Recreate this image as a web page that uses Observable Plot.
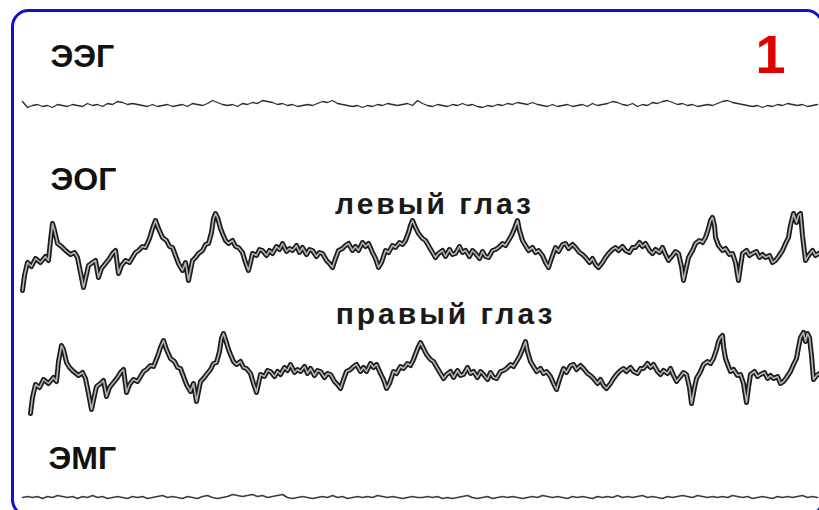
<!DOCTYPE html>
<html>
<head>
<meta charset="utf-8">
<script src="https://cdn.jsdelivr.net/npm/d3@7"></script>
<script src="https://cdn.jsdelivr.net/npm/@observablehq/plot@0.6"></script>
<style>
  html, body { margin: 0; padding: 0; background: #fff; overflow: hidden; }
  #chart svg { display: block; }
</style>
</head>
<body>
<div id="chart"></div>
<script>
// ---------- channel labels ----------
const channelLabels = ["ЭЭГ", "ЭОГ", "ЭМГ"];
const eyeLabels = ["левый глаз", "правый глаз"];
const figureNumber = ["1"];

// ---------- EEG (uniform sampling, step 5, start 22) ----------
const eegValues = [
  4,-2,0,1,-1,0,-2,1,0,-1,1,0,-1,2,0,1,-1,2,1,4,
  3,1,2,1,0,-1,1,-1,0,1,-1,0,1,-1,2,1,0,2,5,3,
  1,0,1,-1,2,1,3,2,5,4,3,1,2,0,1,-1,0,1,0,2,
  4,3,5,2,1,0,-1,0,-2,0,-1,1,0,2,1,0,1,2,0,5,
  2,0,-1,1,0,-1,1,0,2,0,1,-1,-2,0,-1,1,0,2,1,3,
  2,1,3,1,0,-1,1,-1,0,1,-1,0,1,-1,2,0,1,2,4,3,
  1,0,2,-1,1,0,3,2,4,5,3,1,2,0,1,-1,0,1,0,2,
  4,5,3,2,1,0,-1,0,-2,0,-1,1,0,2,1,0,1,-1,0,1
];

// ---------- EMG (uniform sampling, step 5, start 22) ----------
const emgValues = [
  0,1,0,1,-1,1,0,2,1,0,1,-1,1,0,2,0,1,-1,0,1,
  0,-1,1,0,1,-1,0,1,2,0,1,0,-1,1,0,-1,1,2,0,-1,
  0,1,3,2,1,2,3,1,2,0,1,2,3,0,-1,0,1,0,-1,0,
  1,0,2,0,1,-1,0,1,0,1,0,2,1,0,1,0,-1,0,1,0,
  0,1,0,1,-1,0,-1,0,1,2,0,-1,0,1,-1,0,1,0,1,0,
  -1,0,1,0,2,1,0,1,0,-1,1,0,1,0,-1,1,0,1,0,2,
  0,1,0,1,2,0,1,0,-1,1,0,1,2,1,0,2,1,0,1,0,
  1,0,2,1,0,1,-1,0,1,0,-1,1,0,1,0,1,2,0,1,0
];

// ---------- EOG left eye ----------
const leftTime = [
  22,24,27,31,35,40,45,48,50,52,54,57,61,65,70,74,77,80,83,86,88,92,95,98,101,105,109,112,115,118,
  121,125,129,132,135,138,142,145,149,152,155,158,162,166,169,172,175,178,182,185,188,190,192,195,198,202,205,208,211,213,
  215,217,220,222,225,228,232,235,238,242,245,248,250,252,256,259,262,266,269,272,276,279,282,286,289,292,296,299,302,306,
  309,312,316,319,322,326,329,332,335,338,342,345,348,352,355,358,362,365,368,372,375,378,381,385,388,392,395,399,402,405,
  408,410,412,415,418,422,425,429,432,435,438,442,445,449,452,455,459,462,465,469,472,475,479,482,485,488,492,495,498,502,
  505,508,511,514,517,519,522,525,528,532,535,538,542,545,548,551,555,558,562,565,568,572,575,579,582,585,589,592,595,598,
  602,605,608,612,615,618,622,625,629,632,635,639,642,645,649,652,655,659,662,665,668,672,675,678,681,683,686,688,692,695,
  699,702,705,708,710,712,714,715,718,722,725,729,732,735,738,740,742,746,749,752,756,759,762,765,769,772,775,778,782,785,
  788,790,793,796,798,800,802,805,808,812,815,818
];
const leftValues = [
  -35,-20,-7,-11,-3,-7,-1,-5,15,32,25,12,9,5,1,3,-2,-17,-32,-19,-10,-7,-5,-22,-13,-8,-3,2,5,-18,
  -10,-5,-7,-2,3,5,9,8,17,27,35,27,18,15,9,8,0,-8,-15,-7,-25,-15,-5,-2,2,5,11,12,23,37,
  42,38,27,22,15,12,15,9,8,3,-7,-15,-7,2,0,6,5,0,5,2,9,6,12,4,7,5,10,3,8,1,
  6,5,-1,3,2,-5,-8,-12,-3,5,7,10,12,5,9,5,13,9,12,3,-3,-12,-7,5,3,10,8,13,11,15,
  23,30,35,28,22,17,15,8,3,-2,2,5,-1,6,1,2,9,3,5,-1,5,2,-3,4,-1,-2,5,6,8,12,
  10,15,20,27,35,25,15,10,5,8,3,5,0,-7,-12,-3,8,4,11,12,7,11,8,3,1,-2,-7,-3,-9,-12,
  -7,-2,2,6,8,5,9,5,3,8,8,13,9,12,5,2,6,3,8,1,-5,0,4,2,-11,-25,-11,-2,5,12,
  15,13,18,27,35,38,30,18,10,5,7,1,2,-7,-25,-11,2,5,0,2,4,-2,1,-2,0,-7,-5,-1,5,12,
  18,30,42,33,40,42,20,-5,0,5,0,2
];

// ---------- EOG right eye ----------
const rightTime = [
  30,32,35,39,43,48,53,56,58,61,63,66,69,73,78,82,85,88,91,94,96,100,103,106,109,113,117,120,123,126,
  129,133,137,140,143,146,150,153,157,160,163,166,170,174,177,180,183,186,190,193,196,198,200,203,206,210,213,216,219,221,
  223,225,228,230,233,236,240,243,246,250,253,256,258,260,264,267,270,274,277,280,284,287,290,294,297,300,304,307,310,314,
  317,320,324,327,330,334,337,340,343,346,350,353,356,360,363,366,370,373,376,380,383,386,389,393,396,400,403,407,410,413,
  416,418,420,423,426,430,433,437,440,443,446,450,453,457,460,463,467,470,473,477,480,483,487,490,493,496,500,503,506,510,
  513,516,519,522,525,527,530,533,536,540,543,546,550,553,556,559,563,566,570,573,576,580,583,587,590,593,597,600,603,606,
  610,613,616,620,623,626,630,633,637,640,643,647,650,653,657,660,663,667,670,673,676,680,683,686,689,691,694,696,700,703,
  707,710,713,716,718,720,722,723,725,728,730,733,737,740,743,746,748,750,754,757,760,764,767,770,773,777,780,783,786,790,
  793,796,798,800,803,805,807,809,811,813,816,819
];
const rightValues = [
  -38,-22,-9,-12,-4,-8,-2,-6,14,30,26,13,8,4,0,3,-3,-18,-34,-20,-11,-8,-5,-21,-12,-7,-2,3,6,-17,
  -9,-4,-6,-1,4,6,10,9,19,28,35,26,17,14,8,7,-1,-9,-16,-8,-26,-16,-6,-3,1,6,12,13,24,37,
  42,36,26,21,14,11,14,8,7,2,-8,-17,-8,1,-1,5,4,-1,4,1,8,5,11,3,6,4,9,2,7,0,
  5,4,-2,2,1,-6,-9,-13,-4,4,6,9,11,4,8,4,12,8,11,2,-4,-13,-8,4,2,9,7,12,10,16,
  24,29,33,27,21,16,14,7,2,-3,1,4,-2,5,0,1,8,2,4,-2,4,1,-4,3,-2,-3,4,5,7,11,
  9,14,19,26,34,24,14,9,4,7,2,4,-1,-8,-14,-4,7,3,10,11,6,10,7,2,0,-3,-8,-4,-10,-13,
  -8,-3,1,5,7,4,8,4,2,7,7,12,8,11,4,1,5,2,7,0,-6,-1,3,1,-12,-28,-12,-3,4,11,
  14,12,17,26,34,38,40,29,17,9,4,6,0,1,-8,-27,-12,1,4,-1,1,3,-3,0,-3,-1,-8,-6,-2,4,
  11,17,28,38,43,34,42,38,20,-4,0,2
];

// ---------- layout (vertical baselines of the channels) ----------
const base = {eeg: 105, left: 255, right: 375, emg: 497};

const eeg = eegValues.map((v, i) => ({t: 22 + 5 * i, y: base.eeg - v}));
const emg = emgValues.map((v, i) => ({t: 22 + 5 * i, y: base.emg - v}));
const left = leftTime.map((t, i) => ({t, y: base.left - leftValues[i]}));
const right = rightTime.map((t, i) => ({t, y: base.right - rightValues[i]}));

const font = "'Liberation Sans', Arial, Helvetica, sans-serif";

const labelRows = [
  {text: channelLabels[0], t: 50, y: 56},
  {text: channelLabels[1], t: 50, y: 179},
  {text: channelLabels[2], t: 48, y: 458}
];
const eyeRows = [
  {text: eyeLabels[0], t: 434, y: 204},
  {text: eyeLabels[1], t: 445, y: 314}
];

const eogMarks = (data) => [
  Plot.line(data, {x: "t", y: "y", stroke: "#1a1a1a", strokeWidth: 5, strokeLinejoin: "round", curve: "linear"}),
  Plot.line(data, {x: "t", y: "y", stroke: "#b4b4b4", strokeWidth: 1.6, strokeLinejoin: "round", curve: "linear"})
];

const chart = Plot.plot({
  width: 819,
  height: 510,
  margin: 0,
  style: {fontFamily: font, background: "#fff", overflow: "hidden"},
  x: {domain: [0, 819], range: [0, 819], axis: null},
  y: {domain: [0, 510], range: [0, 510], axis: null},
  marks: [
    Plot.frame({stroke: "#1212c4", strokeWidth: 3, rx: 16, insetLeft: 12, insetTop: 10, insetRight: -3, insetBottom: -5}),
    Plot.line(eeg, {x: "t", y: "y", stroke: "#2b2b2b", strokeWidth: 1.3}),
    Plot.line(emg, {x: "t", y: "y", stroke: "#3a3a3a", strokeWidth: 1.6}),
    ...eogMarks(left),
    ...eogMarks(right),
    Plot.text(labelRows, {x: "t", y: "y", text: "text", textAnchor: "start", lineAnchor: "middle", fontSize: 32, fontWeight: "bold", fill: "#111"}),
    Plot.text(eyeRows, {x: "t", y: "y", text: "text", textAnchor: "middle", lineAnchor: "middle", fontSize: 30, fontWeight: "bold", fill: "#1a1a1a"}),
    Plot.text(figureNumber, {x: 770, y: 55, text: d => d, textAnchor: "middle", lineAnchor: "middle", fontSize: 54, fontWeight: "bold", fill: "#e00000"})
  ]
});

d3.select(chart).selectAll("text").filter(function() {
  return eyeLabels.includes(this.textContent);
}).style("letter-spacing", "3px");

document.getElementById("chart").appendChild(chart);
</script>
</body>
</html>
